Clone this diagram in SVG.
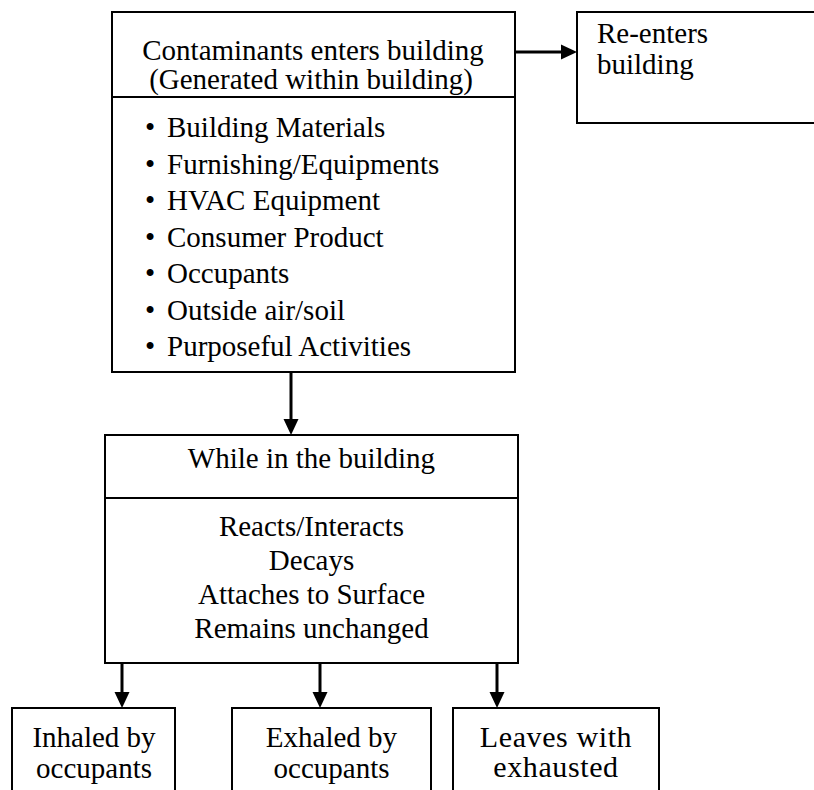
<svg xmlns="http://www.w3.org/2000/svg" width="814" height="790" viewBox="0 0 814 790">
<style>
.box{fill:#fff;stroke:#000;stroke-width:2}
.div{stroke:#000;stroke-width:2}
.t{font-family:"Liberation Serif","Times New Roman",serif;font-size:29px;fill:#000}
.c{text-anchor:middle}
.w{font-size:30px;letter-spacing:0.6px}
.con{stroke:#000;stroke-width:3;fill:none;marker-end:url(#ah)}
</style>
<defs>
<marker id="ah" markerWidth="16" markerHeight="16" refX="8" refY="8" orient="auto" markerUnits="userSpaceOnUse">
<path d="M0,0.5 L16,8 L0,15.5 Z" fill="#000"/>
</marker>
</defs>
<rect width="814" height="790" fill="#fff"/>
<g id="connectors">
<path class="con" d="M515,52 H569"/>
<path class="con" d="M291,372 V427"/>
<path class="con" d="M122,663 V700"/>
<path class="con" d="M320,663 V700"/>
<path class="con" d="M497,663 V700"/>
</g>
<g id="sources">
<rect class="box" x="112" y="12" width="403" height="360"/>
<line class="div" x1="112" y1="97" x2="515" y2="97"/>
<text class="t c" x="313" y="60">Contaminants enters building</text>
<text class="t c" x="311" y="89">(Generated within building)</text>
<g class="t">
<text x="145" y="137">•</text><text x="167" y="137">Building Materials</text>
<text x="145" y="173.5">•</text><text x="167" y="173.5">Furnishing/Equipments</text>
<text x="145" y="210">•</text><text x="167" y="210">HVAC Equipment</text>
<text x="145" y="246.5">•</text><text x="167" y="246.5">Consumer Product</text>
<text x="145" y="283">•</text><text x="167" y="283">Occupants</text>
<text x="145" y="319.5">•</text><text x="167" y="319.5">Outside air/soil</text>
<text x="145" y="356">•</text><text x="167" y="356">Purposeful Activities</text>
</g>
</g>
<g id="reenters">
<rect class="box" x="577" y="12" width="250" height="111"/>
<text class="t" x="597" y="43">Re-enters</text>
<text class="t" x="597" y="74">building</text>
</g>
<g id="inbuilding">
<rect class="box" x="105" y="435" width="413" height="228"/>
<line class="div" x1="105" y1="498" x2="518" y2="498"/>
<text class="t c" x="311.5" y="468">While in the building</text>
<text class="t c" x="311.5" y="536">Reacts/Interacts</text>
<text class="t c" x="311.5" y="570">Decays</text>
<text class="t c" x="311.5" y="604">Attaches to Surface</text>
<text class="t c" x="311.5" y="638">Remains unchanged</text>
</g>
<g id="inhaled">
<rect class="box" x="12" y="708" width="163" height="100"/>
<text class="t c" x="94" y="747">Inhaled by</text>
<text class="t c" x="94" y="778">occupants</text>
</g>
<g id="exhaled">
<rect class="box" x="232" y="708" width="199" height="100"/>
<text class="t c" x="331.5" y="747">Exhaled by</text>
<text class="t c" x="331.5" y="778">occupants</text>
</g>
<g id="leaves">
<rect class="box" x="453" y="708" width="206" height="100"/>
<text class="t c w" x="556" y="747">Leaves with</text>
<text class="t c w" x="556" y="777">exhausted</text>
</g>
</svg>
